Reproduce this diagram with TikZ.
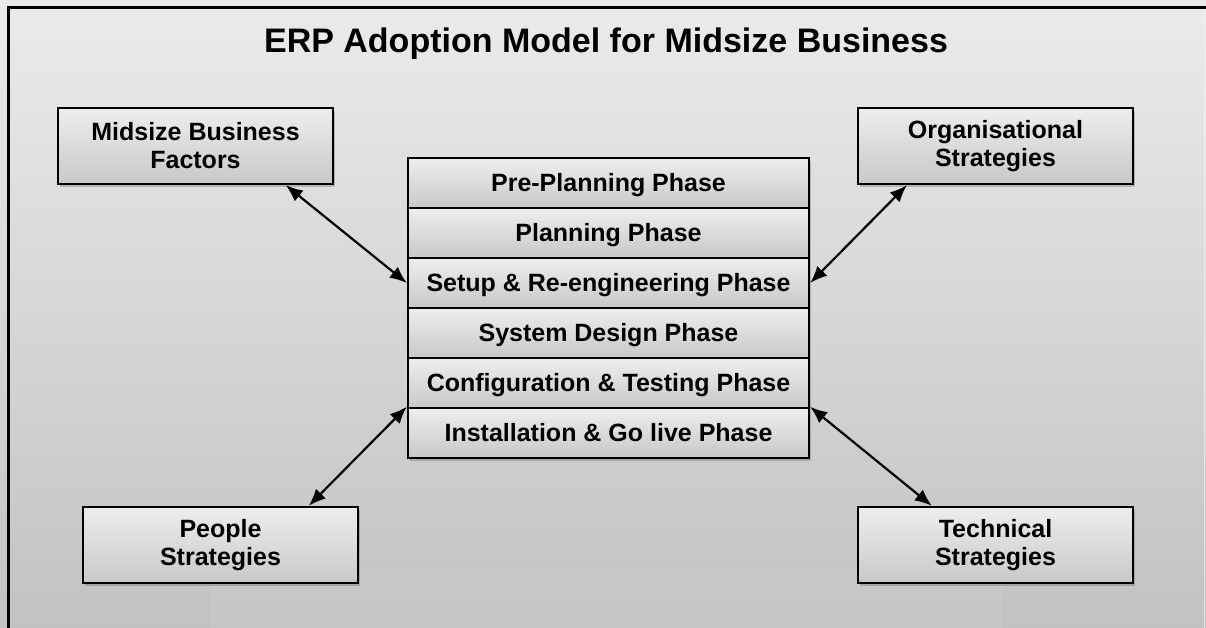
\documentclass[tikz,border=0pt]{standalone}
\usepackage{fontspec}
\setmainfont{Liberation Sans}
\usetikzlibrary{calc,shadows,arrows.meta}
\definecolor{bgtop}{HTML}{EBEBEB}
\definecolor{bgbot}{HTML}{C2C2C2}
\definecolor{boxtop}{HTML}{EEEEEE}
\definecolor{boxbot}{HTML}{C8C8C8}
\tikzset{
  sidebox/.style={draw=black, line width=2.4pt, top color=boxtop, bottom color=boxbot,
    minimum width=275pt, minimum height=76pt, inner sep=0pt, align=center,
    font=\bfseries\fontsize{25}{28}\selectfont,
    drop shadow={shadow xshift=2pt, shadow yshift=-3pt, opacity=0.35, fill=black!60}},
  phasebox/.style={draw=black, line width=2.4pt, top color=boxtop, bottom color=boxbot,
    minimum width=401pt, minimum height=50pt, inner sep=0pt, text depth=2pt,
    font=\bfseries\fontsize{25}{28}\selectfont},
  link/.style={line width=2.2pt, {Latex[length=17pt,width=14pt]}-{Latex[length=17pt,width=14pt]}},
}
\begin{document}
\begin{tikzpicture}[x=1pt,y=-1pt]
\useasboundingbox (0,0) rectangle (1206,628);
\shade[top color=bgtop, bottom color=bgbot] (0,0) rectangle (1206,628);
\fill[white, opacity=0.06] (210,567) rectangle (1002,628);
\draw[line width=3pt, line cap=rect] (8,628) -- (8,8) -- (1206,8);
\draw[white, opacity=0.5, line width=1pt] (1204,9) -- (1204,628);

\node (title) at (606,44) {\bfseries\fontsize{34}{34}\selectfont ERP Adoption Model for Midsize Business};

\node[phasebox, drop shadow={shadow xshift=2pt, shadow yshift=-3pt, opacity=0.35, fill=black!60}, minimum height=300pt] (stack) at (608.5,308) {};
\node[phasebox] (p1) at (608.5,183) {Pre-Planning Phase};
\node[phasebox] (p2) at (608.5,233) {Planning Phase};
\node[phasebox] (p3) at (608.5,283) {Setup \& Re-engineering Phase};
\node[phasebox] (p4) at (608.5,333) {System Design Phase};
\node[phasebox] (p5) at (608.5,383) {Configuration \& Testing Phase};
\node[phasebox] (p6) at (608.5,433) {Installation \& Go live Phase};

\node[sidebox] (mbf) at (195.5,146) {Midsize Business\\Factors};
\node[sidebox] (org) at (995.5,146) {Organisational\\Strategies};
\node[sidebox] (ppl) at (220.5,545) {People\\Strategies};
\node[sidebox] (tec) at (995.5,545) {Technical\\Strategies};

\draw[link] ($(mbf.south west)+(229,0)$) -- (p3.west);
\draw[link] ($(org.south west)+(50,0)$) -- (p3.east);
\draw[link] ($(ppl.north west)+(227,0)$) -- (p6.north west);
\draw[link] ($(tec.north west)+(75,0)$) -- (p6.north east);
\end{tikzpicture}
\end{document}
